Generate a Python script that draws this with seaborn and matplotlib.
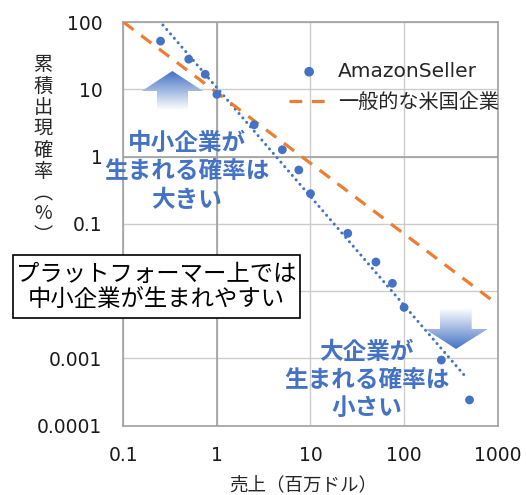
import numpy as np
import pandas as pd
import matplotlib
matplotlib.use("Agg")
import matplotlib.pyplot as plt
import matplotlib.ticker as mticker
from matplotlib.patches import Polygon, Rectangle
from matplotlib.colors import LinearSegmentedColormap
import seaborn as sns

# data
sales = [0.25, 0.5, 0.75, 1, 2.5, 5, 7.5, 10, 25, 50, 75, 100, 250, 500]
cum_prob = [52, 28, 16.7, 8.4, 2.96, 1.26, 0.63, 0.28, 0.072, 0.027, 0.013,
            0.0057, 0.00094, 0.00024]
us_x = [0.1, 1000]
us_y = [100, 0.0063]
trend_range = [0.2, 475]

x_ticks = [0.1, 1, 10, 100, 1000]
y_ticks = [0.0001, 0.001, 0.01, 0.1, 1, 10, 100]
y_labels = ["0.0001", "0.001", "", "0.1", "1", "10", "100"]  # 0.01 hidden by box

BLUE = "#4472C4"
ORANGE = "#ED7D31"
W, H = 526, 495

sns.set_style("white")
plt.rcParams["font.family"] = ["DejaVu Sans", "Noto Sans CJK JP"]
CJK = ["Noto Sans CJK JP", "DejaVu Sans"]


def fx(px):
    return px / W


def fy(py):
    return 1 - py / H


def gradient_arrow(ax, verts, top_color, bottom_color):
    """draw polygon filled with vertical gradient (axes coords)"""
    poly = Polygon(verts, closed=True, transform=ax.transAxes,
                   facecolor="none", edgecolor="none")
    ax.add_patch(poly)
    xs = [v[0] for v in verts]
    ys = [v[1] for v in verts]
    cmap = LinearSegmentedColormap.from_list("g", [bottom_color, top_color])
    grad = np.linspace(0, 1, 256).reshape(-1, 1)
    im = ax.imshow(grad, cmap=cmap, origin="lower", aspect="auto",
                   extent=[min(xs), max(xs), min(ys), max(ys)],
                   transform=ax.transAxes, zorder=3)
    im.set_clip_path(poly)


def main():
    df = pd.DataFrame({"x": sales, "y": cum_prob})
    # power-law trend line fitted on the log data
    slope, icpt = np.polyfit(np.log10(sales), np.log10(cum_prob), 1)
    tx = np.geomspace(trend_range[0], trend_range[1], 50)
    trend = pd.DataFrame({"x": tx, "y": 10 ** icpt * tx ** slope})
    us = pd.DataFrame({"x": us_x, "y": us_y})

    fig = plt.figure(figsize=(W / 100, H / 100), dpi=100)
    ax = fig.add_axes([fx(123.3), fy(425.5), (497.7 - 123.3) / W, (425.5 - 22) / H])

    sns.lineplot(data=trend, x="x", y="y", ax=ax, color=BLUE, lw=2.2,
                 linestyle=(0, (0.01, 1.9)), dash_capstyle="round",
                 legend=False, zorder=2)
    sns.scatterplot(data=df, x="x", y="y", ax=ax, color=BLUE, s=40,
                    edgecolor="none", label="AmazonSeller", zorder=4)
    sns.lineplot(data=us, x="x", y="y", ax=ax, color=ORANGE, lw=2.3,
                 linestyle=(0, (4, 3)), label="一般的な米国企業", zorder=3)

    ax.set_xscale("log")
    ax.set_yscale("log")
    ax.set_xlim(0.1, 1000)
    ax.set_ylim(0.0001, 100)
    ax.set_xticks(x_ticks)
    ax.set_yticks(y_ticks)
    ax.xaxis.set_minor_locator(mticker.NullLocator())
    ax.yaxis.set_minor_locator(mticker.NullLocator())
    ax.xaxis.set_major_formatter(mticker.FuncFormatter(lambda v, _: f"{v:g}"))
    ax.set_yticklabels(y_labels)
    ax.tick_params(length=0, labelsize=13.5, pad=15, colors="#1A1A1A")
    ax.grid(True, color="#CCCCCC", lw=1)
    ax.axvline(1, color="#A0A0A0", lw=1.2, zorder=1)
    ax.axhline(1, color="#A0A0A0", lw=1.2, zorder=1)
    for sp in ax.spines.values():
        sp.set_color("#A0A0A0")
        sp.set_linewidth(1.2)
    ax.set_xlabel("")
    ax.set_ylabel("")

    leg = ax.legend(loc="upper left", bbox_to_anchor=(fx(289), fy(62)),
                    bbox_transform=fig.transFigure, frameon=False,
                    fontsize=14.5, handlelength=2.0, handletextpad=0.45,
                    labelspacing=0.6, borderpad=0, borderaxespad=0,
                    markerscale=1.1)
    leg.set_zorder(5)

    # arrows
    up = [(0.0899, 0.782), (0.1727, 0.782), (0.1727, 0.829), (0.2129, 0.829),
          (0.131, 0.8786), (0.0495, 0.829), (0.0899, 0.829)]
    gradient_arrow(ax, up, BLUE, "#FFFFFF")
    down = [(0.8459, 0.2912), (0.9305, 0.2912), (0.9305, 0.2392),
            (0.9733, 0.2392), (0.8886, 0.1896), (0.8059, 0.2392),
            (0.8459, 0.2392)]
    gradient_arrow(ax, down, "#FFFFFF", BLUE)

    # annotations
    fig.text(fx(186.7), fy(171.5), "中小企業が\n生まれる確率は\n大きい",
             ha="center", va="center", color=BLUE, fontsize=17,
             fontweight="bold", family=CJK, linespacing=1.22, zorder=6)
    fig.text(fx(366.7), fy(380), "大企業が\n生まれる確率は\n小さい",
             ha="center", va="center", color=BLUE, fontsize=17,
             fontweight="bold", family=CJK, linespacing=1.22, zorder=6)

    fig.add_artist(Rectangle((fx(13.3), fy(317.5)), (300 - 13.3) / W,
                             (317.5 - 254.5) / H, transform=fig.transFigure,
                             facecolor="white", edgecolor="black", lw=1.2,
                             zorder=5))
    fig.text(fx(156.7), fy(287), "プラットフォーマー上では\n中小企業が生まれやすい",
             ha="center", va="center", color="black", fontsize=16.8,
             family=CJK, linespacing=1.15, zorder=6)

    # axis labels
    fig.text(fx(303), fy(485), "売上（百万ドル）", ha="center", va="center",
             fontsize=13.3, family=CJK)
    ylab = "累積出現確率" + "︵%︶"
    fig.text(fx(43), fy(150), "\n".join(ylab), ha="center", va="center",
             fontsize=13.8, family=CJK, linespacing=1.02)

    fig.savefig("out.png", dpi=100)


if __name__ == "__main__":
    main()
